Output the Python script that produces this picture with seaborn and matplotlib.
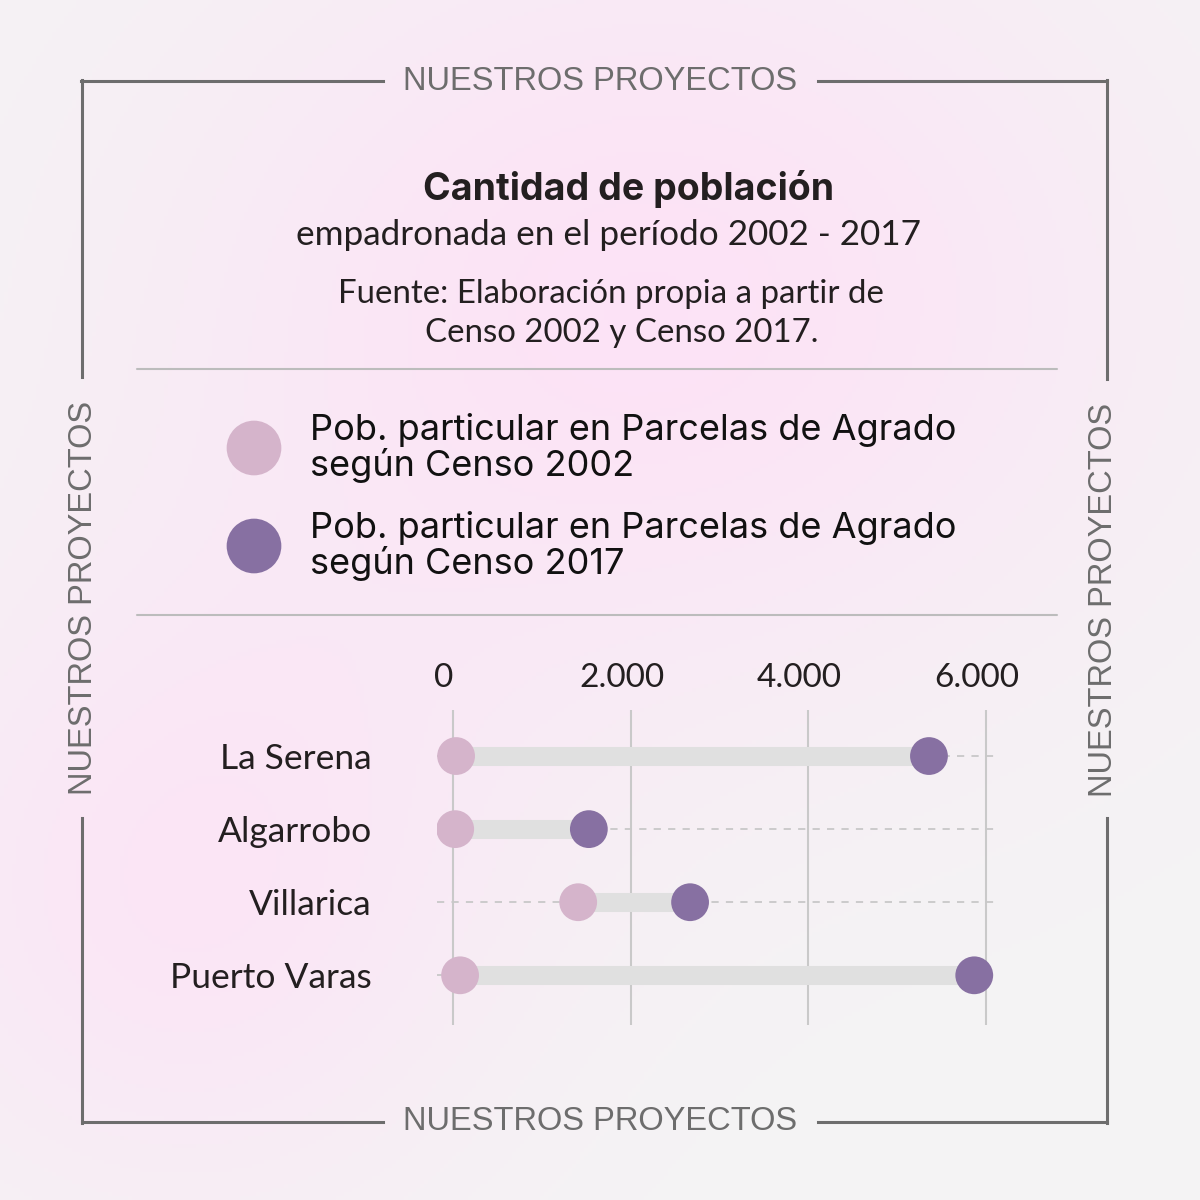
import numpy as np
import pandas as pd
import matplotlib.pyplot as plt
import matplotlib.transforms as mtransforms
import seaborn as sns

# Data
comunas = ['La Serena', 'Algarrobo', 'Villarica', 'Puerto Varas']
pob_2002 = [35, 25, 1410, 80]
pob_2017 = [5360, 1530, 2670, 5870]
ticks = [0, 2000, 4000, 6000]
tick_labels = ['0', '2.000', '4.000', '6.000']
series = ['Censo 2002', 'Censo 2017']
colores = ['#d5b4cb', '#8770a2']
leyenda = ['Pob. particular en Parcelas de Agrado\nsegún Censo 2002',
           'Pob. particular en Parcelas de Agrado\nsegún Censo 2017']

sns.set_theme(style='white')
plt.rcParams['font.family'] = ['Lato', 'DejaVu Sans']

W = 1200
fig = plt.figure(figsize=(12, 12), dpi=100)

# background axes in pixel coordinates
bg = fig.add_axes([0, 0, 1, 1])
bg.set_xlim(0, W)
bg.set_ylim(W, 0)
bg.axis('off')

yy, xx = np.mgrid[0:W:4, 0:W:4]
glow = np.exp(-(((xx - 650) / 520) ** 2 + ((yy - 300) / 420) ** 2))
glow += 0.8 * np.exp(-(((xx - 180) / 330) ** 2 + ((yy - 900) / 330) ** 2))
glow = np.clip(glow, 0, 1)[..., None]
base = np.array([0.957, 0.957, 0.957])
pink = np.array([0.99, 0.89, 0.965])
img = base * (1 - glow) + pink * glow
bg.imshow(img, extent=[0, W, W, 0], aspect='auto', zorder=0)

# frame with text in gaps
fc = '#6d6d6d'
lw = 2.2
for xs, ys in [([81, 383], [81, 81]), ([818, 1107], [81, 81]),
               ([82, 383], [1122, 1122]), ([818, 1107], [1122, 1122]),
               ([82, 82], [80, 377]), ([82, 82], [818, 1123]),
               ([1107, 1107], [80, 379]), ([1107, 1107], [818, 1123])]:
    bg.plot(xs, ys, color=fc, lw=lw, solid_capstyle='projecting', zorder=1)

marco = dict(color=fc, fontsize=23.5, family=['Liberation Sans', 'DejaVu Sans'],
             ha='center', va='center', zorder=2)
bg.text(600, 81, 'NUESTROS PROYECTOS', **marco)
bg.text(600, 1122, 'NUESTROS PROYECTOS', **marco)
bg.text(84, 598, 'NUESTROS PROYECTOS', rotation=90, **marco)
bg.text(1103, 600, 'NUESTROS PROYECTOS', rotation=90, **marco)

# titles
bg.text(629, 189, 'Cantidad de población', fontsize=27, fontweight='bold',
        color='#231f20', ha='center', va='center', family=['Inter', 'DejaVu Sans'])
bg.text(609, 235, 'empadronada en el período 2002 - 2017', fontsize=25.3,
        color='#231f20', ha='center', va='center')
bg.text(611, 294, 'Fuente: Elaboración propia a partir de', fontsize=23.8,
        color='#231f20', ha='center', va='center')
bg.text(622, 333, 'Censo 2002 y Censo 2017.', fontsize=23.8,
        color='#231f20', ha='center', va='center')

# separators
for y in [369, 615]:
    bg.plot([137, 1057], [y, y], color='#bcbcbc', lw=1.5, zorder=1)

# legend
for i, (lab, col) in enumerate(zip(leyenda, colores)):
    y = 448 + 98 * i
    bg.scatter([254], [y], s=1550, color=col, edgecolor='none', zorder=3)
    bg.text(310, y, lab, fontsize=26, color='#111111', ha='left', va='center',
            linespacing=1.07, family=['Inter', 'DejaVu Sans'])

# dumbbell chart
ax = fig.add_axes([437 / W, 1 - 1025 / W, 563 / W, 315 / W])
ax.patch.set_alpha(0)
pos = np.arange(len(comunas))

df = pd.DataFrame({
    'comuna': comunas * 2,
    'pos': np.concatenate([pos, pos]),
    'valor': pob_2002 + pob_2017,
    'censo': [series[0]] * len(comunas) + [series[1]] * len(comunas),
})

for p in pos:
    ax.axhline(p, color='#c8c8c8', lw=1.3, ls=(0, (4, 4)), zorder=1)
ax.hlines(pos, pob_2002, pob_2017, color='#e0e0e0', lw=13.7, zorder=2)
sns.scatterplot(data=df, x='valor', y='pos', hue='censo', hue_order=series,
                palette=colores, s=740, edgecolor='none', legend=False,
                ax=ax, zorder=4)

ax.set_xlim(-180, 6160)
ax.set_ylim(len(comunas) - 1 + 0.68, -0.63)
ax.set_xticks(ticks, tick_labels)
ax.set_yticks(pos, comunas)
ax.xaxis.tick_top()
ax.grid(axis='x', color='#c9c9c9', lw=1.5, zorder=0)
ax.set_axisbelow(True)
ax.tick_params(axis='x', length=0, pad=12, labelsize=24, labelcolor='#231f20')
ax.tick_params(axis='y', length=0, pad=47, labelsize=25.5, labelcolor='#231f20')
shift = mtransforms.ScaledTranslation(-0.09, 0, fig.dpi_scale_trans)
for lab in ax.get_xticklabels():
    lab.set_transform(lab.get_transform() + shift)
ax.set_xlabel('')
ax.set_ylabel('')
sns.despine(ax=ax, left=True, bottom=True)

fig.savefig('out.png', dpi=100)
